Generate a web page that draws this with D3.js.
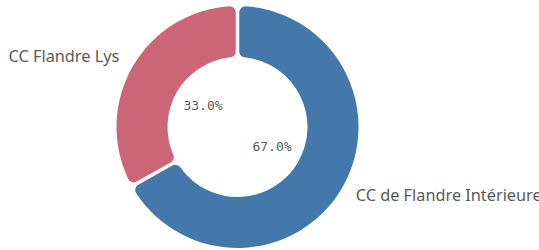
<!DOCTYPE html>
<html>
<head>
<meta charset="utf-8">
<script src="https://cdn.jsdelivr.net/npm/d3@7"></script>
<style>
body { margin: 0; background: #fff; }
</style>
</head>
<body>
<div id="app"></div>
<script>
const width = 539,
    height = 250;

const categories = ["CC de Flandre Intérieure", "CC Flandre Lys"];
const values = [67.0, 33.0];
const colors = ["#4477aa", "#cc6677"];

const cx = 237.5, cy = 127,
    outer = 121, inner = 70;

const svg = d3.select("#app")
    .append("svg")
    .attr("width", width)
    .attr("height", height);

const g = svg.append("g")
    .attr("transform", `translate(${cx}, ${cy})`);

const data = categories.map((c, i) => ({name: c, value: values[i], color: colors[i]}));

const pie = d3.pie()
    .sort(null)
    .value(d => d.value)
    .padAngle(0.025);

const arc = d3.arc()
    .innerRadius(inner)
    .outerRadius(outer)
    .cornerRadius(6);

const arcs = pie(data);

g.selectAll("path")
    .data(arcs).enter()
    .append("path")
    .attr("d", arc)
    .attr("fill", d => d.data.color);

// position along the middle angle of a slice
const midPos = (d, r) => {
    const a = (d.startAngle + d.endAngle) / 2;
    return [r * Math.sin(a), -r * Math.cos(a)];
};

// percentage labels inside the hole
g.selectAll("text.pct")
    .data(arcs).enter()
    .append("text")
    .attr("class", "pct")
    .attr("x", d => midPos(d, 40)[0])
    .attr("y", d => midPos(d, 40)[1])
    .attr("text-anchor", "middle")
    .attr("dominant-baseline", "middle")
    .attr("font-family", "DejaVu Sans Mono")
    .attr("font-size", 13)
    .attr("fill", "#595959")
    .text(d => d.data.value.toFixed(1) + "%");

// category labels outside
g.selectAll("text.cat")
    .data(arcs).enter()
    .append("text")
    .attr("class", "cat")
    .attr("x", d => midPos(d, 137)[0])
    .attr("y", d => midPos(d, 137)[1])
    .attr("text-anchor", d => midPos(d, 1)[0] < 0 ? "end" : "start")
    .attr("dominant-baseline", "middle")
    .attr("font-family", "Noto Sans")
    .attr("font-size", 16.3)
    .attr("fill", "#595959")
    .text(d => d.data.name);
</script>
</body>
</html>
